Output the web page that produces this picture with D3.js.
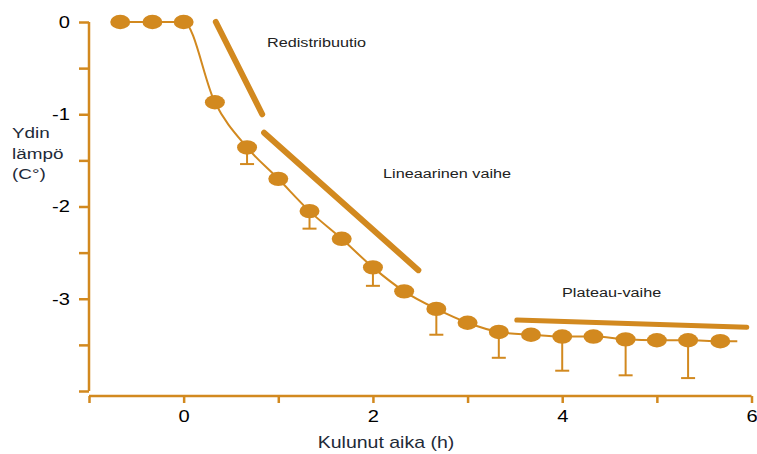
<!DOCTYPE html>
<html><head><meta charset="utf-8">
<script src="https://cdn.jsdelivr.net/npm/d3@7"></script>
<style>body{margin:0;background:#fff}svg{display:block}</style>
</head><body>
<svg id="c" width="757" height="454"></svg>
<script>
const times = [-0.67,-0.33,0,0.33,0.67,1,1.33,1.67,2,2.33,2.67,3,3.33,3.67,4,4.33,4.67,5,5.33,5.67];
const temps = [0,0,0,-0.87,-1.36,-1.70,-2.05,-2.35,-2.66,-2.92,-3.11,-3.26,-3.36,-3.39,-3.41,-3.41,-3.44,-3.45,-3.45,-3.46];
const errTimes = [0.67,1.33,2,2.67,3.33,4,4.67,5.33];
const errLow = [-1.54,-2.24,-2.86,-3.39,-3.64,-3.78,-3.83,-3.86];
const errMean = [-1.36,-2.05,-2.66,-3.11,-3.36,-3.41,-3.44,-3.45];
const lineEnd = [5.85,-3.46];
const trendLines = [
  {name:"Redistribuutio", x1:0.34, y1:0.0, x2:0.83, y2:-1.0, w:6},
  {name:"Lineaarinen vaihe", x1:0.85, y1:-1.20, x2:2.48, y2:-2.69, w:6},
  {name:"Plateau-vaihe", x1:3.52, y1:-3.23, x2:5.95, y2:-3.31, w:5}
];
const labels = [
  {text:"Redistribuutio", x:0.88, y:-0.27},
  {text:"Lineaarinen vaihe", x:2.107, y:-1.69},
  {text:"Plateau-vaihe", x:3.998, y:-2.98}
];
const xTicks = [-1,0,1,2,3,4,5,6];
const xTickLabels = ["","0","","2","","4","","6"];
const yTicks = [0,-0.5,-1,-1.5,-2,-2.5,-3,-3.5,-4];
const yTickLabels = ["0","","-1","","-2","","-3","",""];
const xTitle = "Kulunut aika (h)";
const yTitle = ["Ydin","lämpö","(C°)"];

const col = "#D2891F";
const SX = 1.22; // horizontal stretch of the text in the reference
const FONT = "Liberation Sans, Arial, sans-serif";
const svg = d3.select("#c");
const x = d3.scaleLinear().domain([-1,6]).range([89,751.5]);
const y = d3.scaleLinear().domain([-4,0]).range([391,22]);

// y axis
const yAx = svg.append("g").attr("transform","translate(89,0)")
  .call(d3.axisLeft(y).tickValues(yTicks).tickFormat((d,i)=>yTickLabels[i]).tickSize(10).tickPadding(9));
yAx.select(".domain").attr("stroke",col).attr("stroke-width",2.5).attr("d",`M0,${y(-4)}V${y(0)}`);
yAx.selectAll(".tick line").attr("stroke",col).attr("stroke-width",2.5);
yAx.selectAll(".tick text").attr("fill","#000").style("font-family",FONT).style("font-size","16.5px")
  .attr("x",-19/SX).attr("transform",`scale(${SX},1)`);

// x axis
const xAx = svg.append("g").attr("transform","translate(0,396)")
  .call(d3.axisBottom(x).tickValues(xTicks).tickFormat((d,i)=>xTickLabels[i]).tickSize(7).tickPadding(7));
xAx.select(".domain").attr("stroke",col).attr("stroke-width",2.5).attr("d",`M${x(-1)},0H${x(6)}`);
xAx.selectAll(".tick line").attr("stroke",col).attr("stroke-width",2.5);
xAx.selectAll(".tick text").attr("fill","#000").style("font-family",FONT).style("font-size","16.5px")
  .attr("transform",`scale(${SX},1)`);

// trend lines
svg.append("g").selectAll("line").data(trendLines).join("line")
  .attr("x1",d=>x(d.x1)).attr("y1",d=>y(d.y1)).attr("x2",d=>x(d.x2)).attr("y2",d=>y(d.y2))
  .attr("stroke",col).attr("stroke-width",d=>d.w).attr("stroke-linecap","round");

// error bars
const eb = svg.append("g");
errTimes.forEach((t,i)=>{
  eb.append("line").attr("x1",x(t)).attr("x2",x(t)).attr("y1",y(errMean[i])).attr("y2",y(errLow[i]))
    .attr("stroke",col).attr("stroke-width",2);
  eb.append("line").attr("x1",x(t)-7).attr("x2",x(t)+7).attr("y1",y(errLow[i])).attr("y2",y(errLow[i]))
    .attr("stroke",col).attr("stroke-width",2);
});

// data line
const pts = times.map((t,i)=>[t,temps[i]]).concat([lineEnd]);
svg.append("path").datum(pts)
  .attr("d",d3.line().x(d=>x(d[0])).y(d=>y(d[1])).curve(d3.curveMonotoneX))
  .attr("fill","none").attr("stroke",col).attr("stroke-width",2);

// markers
svg.append("g").selectAll("ellipse").data(times).join("ellipse")
  .attr("cx",d=>x(d)).attr("cy",(d,i)=>y(temps[i])).attr("rx",10).attr("ry",7.2).attr("fill",col);

// stretched text helper
function stext(px, py, str, size, fill, anchor){
  svg.append("g").attr("transform",`translate(${px},${py}) scale(${SX},1)`)
    .append("text").text(str).attr("text-anchor",anchor||"start")
    .attr("fill",fill).style("font-family",FONT).style("font-size",size+"px");
}

// phase labels
labels.forEach(d=>stext(x(d.x), y(d.y), d.text, 13.3, "#222"));

// axis titles
stext(x(2.138), 448, xTitle, 16, "#1e2a38", "middle");
yTitle.forEach((s,i)=>stext(12, 138 + i*20.5, s, 15.5, "#1e2a38"));
</script>
</body></html>
